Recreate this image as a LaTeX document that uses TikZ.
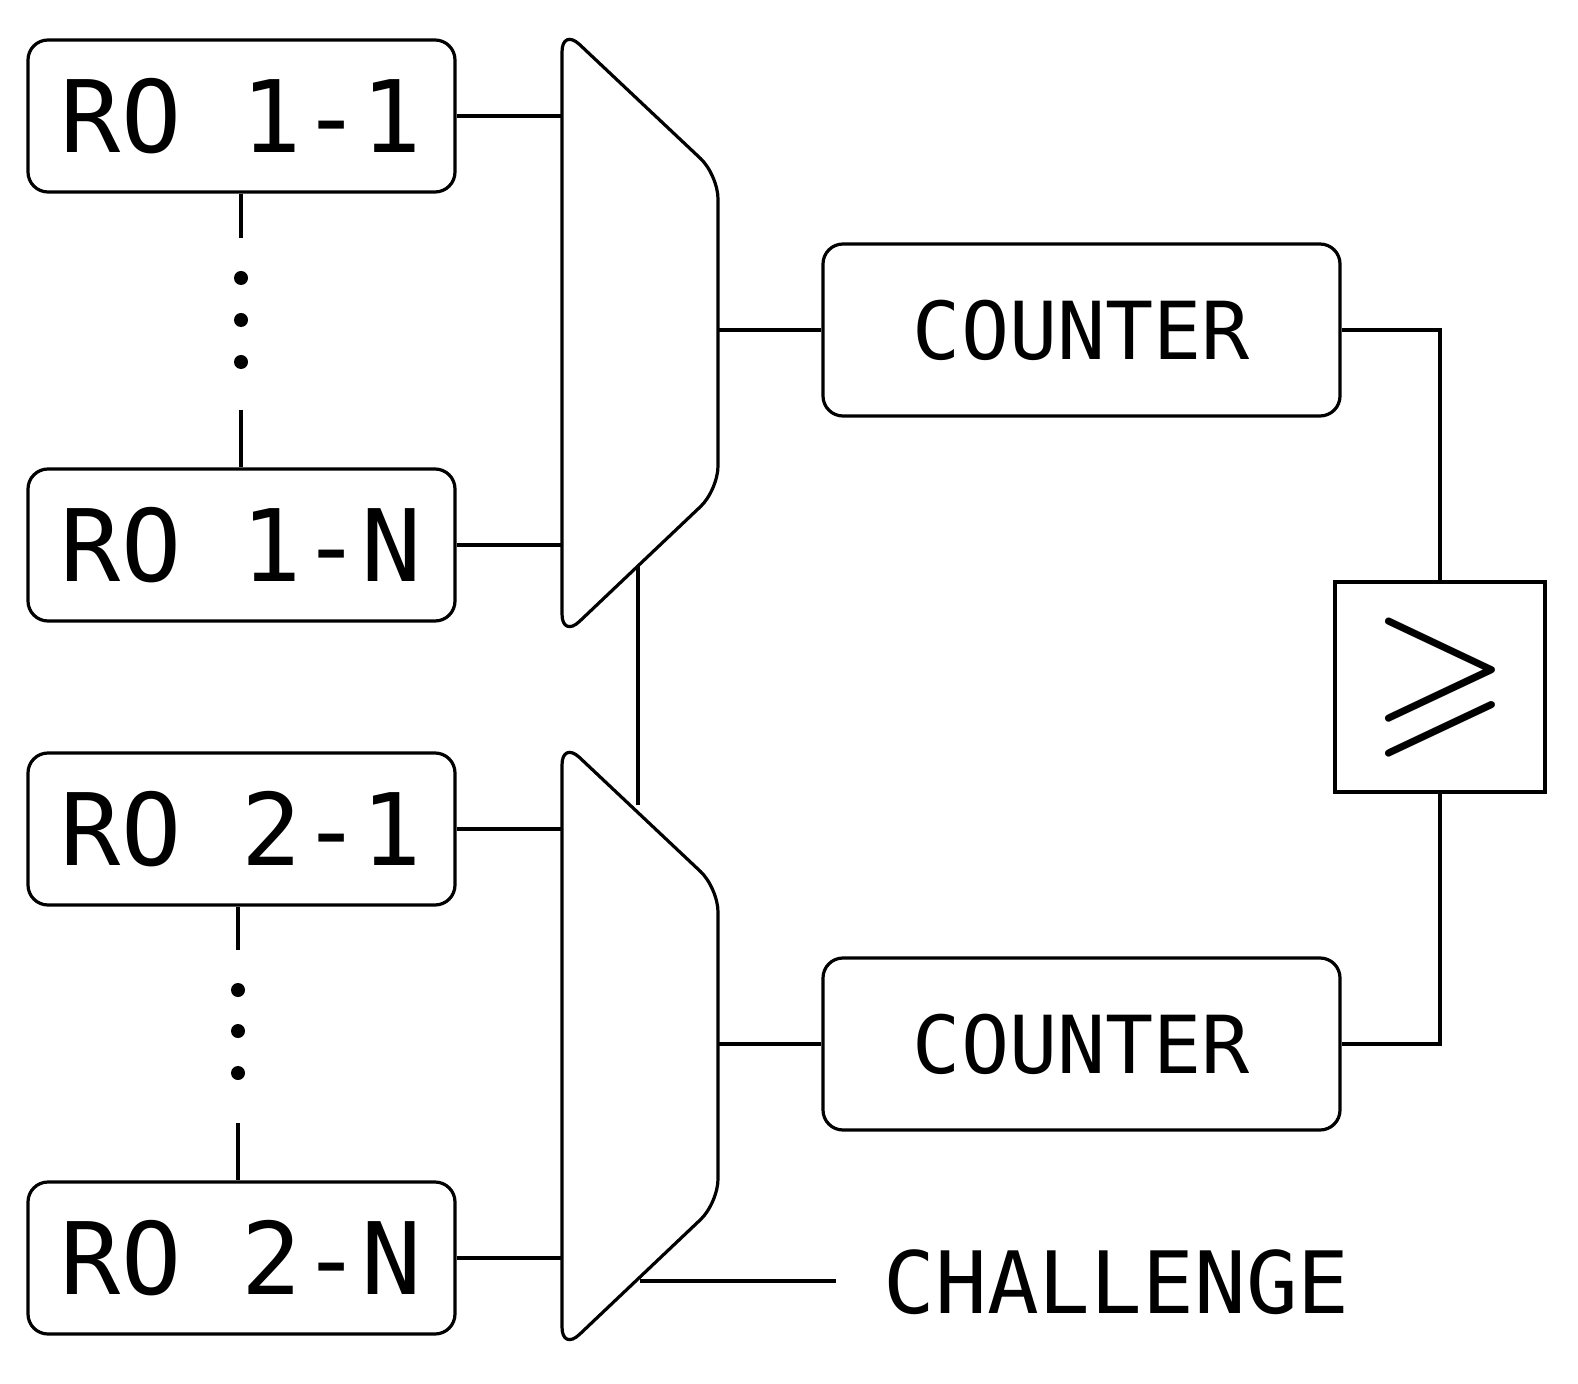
\documentclass[tikz,border=0pt]{standalone}
\usepackage{amssymb}
\usepackage{fontspec}
\setmonofont{DejaVu Sans Mono}
\begin{document}
\begin{tikzpicture}[x=0.5pt,y=-0.5pt,line width=1.6pt,
 ro/.style={draw,rounded corners=10pt,minimum width=213.5pt,minimum height=76pt,inner sep=0pt,font=\ttfamily\fontsize{50}{50}\selectfont},
 ctr/.style={draw,rounded corners=10pt,minimum width=258.5pt,minimum height=86pt,inner sep=0pt,font=\ttfamily\fontsize{40}{40}\selectfont},
 dot/.style={circle,fill,inner sep=0pt,minimum size=7pt}]
\useasboundingbox (0,0) rectangle (1578,1384);
\node[ro] (a) at (241.5,116) {RO 1-1};
\node[ro] (b) at (241.5,545) {RO 1-N};
\node[ro] (c) at (241.5,829) {RO 2-1};
\node[ro] (d) at (241.5,1258) {RO 2-N};
\node[ctr] (k1) at (1081.5,330) {COUNTER};
\node[ctr] (k2) at (1081.5,1044) {COUNTER};
\node[draw,minimum width=105pt,minimum height=105pt,inner sep=0pt] (cmp) at (1440,687) {\fontsize{90}{90}\selectfont$\geqslant$};
\node[anchor=west,inner sep=0pt,font=\ttfamily\fontsize{43}{43}\selectfont] (ch) at (882,1282) {CHALLENGE};
% muxes
\draw[rounded corners=12pt] (562,28) -- (718,175) -- (718,490) -- (562,638) -- cycle;
\draw[rounded corners=12pt] (562,741) -- (718,888) -- (718,1203) -- (562,1351) -- cycle;
\coordinate (m1o) at (718,330); \coordinate (m2o) at (718,1044);
\coordinate (m1b) at (638,566); \coordinate (m2t) at (638,805);
\coordinate (m2c) at (640,1281); \coordinate (chl) at (836,1281);
\draw (a.east) -- (562,116);
\draw (b.east) -- (562,545);
\draw (c.east) -- (562,829);
\draw (d.east) -- (562,1258);
\draw (m1o) -- (k1.west);
\draw (m2o) -- (k2.west);
\draw (m1b) -- (m2t);
\draw (m2c) -- (chl);
\draw (k1.east) -| (cmp.north);
\draw (k2.east) -| (cmp.south);
% dotted
\coordinate (p1) at (241,238); \coordinate (p2) at (241,410);
\draw (a.south -| p1) -- (p1); \draw (p2) -- (b.north -| p2);
\node[dot] (d1) at (241,278) {}; \node[dot] (d2) at (241,320) {}; \node[dot] (d3) at (241,362) {};
\coordinate (q1) at (238,950); \coordinate (q2) at (238,1123);
\draw (c.south -| q1) -- (q1); \draw (q2) -- (d.north -| q2);
\node[dot] (e1) at (238,990) {}; \node[dot] (e2) at (238,1031) {}; \node[dot] (e3) at (238,1073) {};
\end{tikzpicture}
\end{document}
